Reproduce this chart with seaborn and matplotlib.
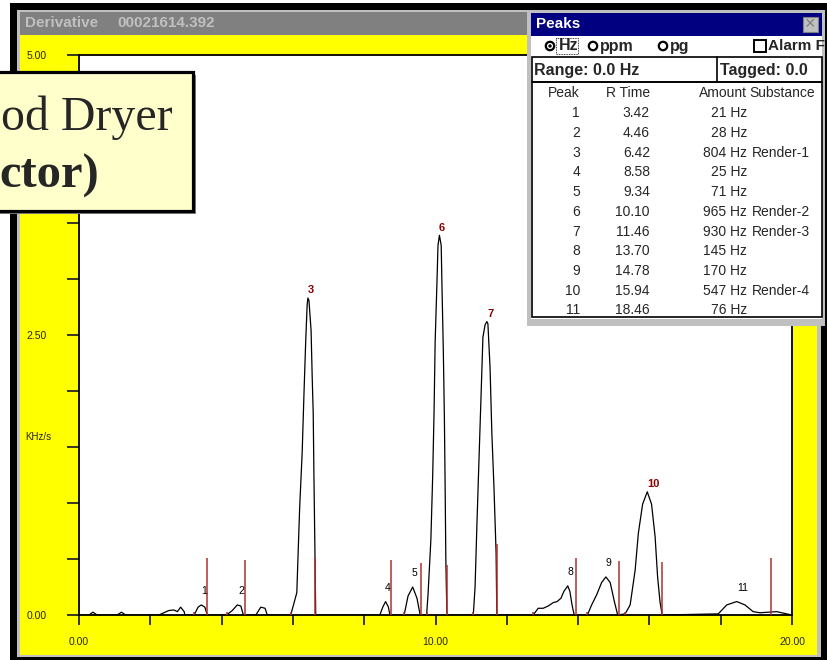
import numpy as np
import pandas as pd
import matplotlib
matplotlib.use("Agg")
import matplotlib.pyplot as plt
import matplotlib.patches as mpatches
import seaborn as sns

sns.set_style("white")
plt.rcParams["font.family"] = ["Liberation Sans", "DejaVu Sans"]


# 1. DATA

trace_time = [0.00, 0.28, 0.39, 0.51, 1.07, 1.19, 1.31,
              2.24, 2.38, 2.52, 2.66, 2.76, 2.85, 2.95, 2.97,
              3.23, 3.34, 3.43, 3.53, 3.60,
              4.14, 4.30, 4.44, 4.54, 4.61,
              4.96, 5.10, 5.22, 5.28,
              5.94, 6.11, 6.14, 6.19, 6.26, 6.31, 6.36, 6.40, 6.42, 6.45,
              6.51, 6.54, 6.57, 6.59, 6.62, 6.64,
              8.44, 8.52, 8.60, 8.68, 8.72,
              9.12, 9.23, 9.36, 9.48, 9.57,
              9.75, 9.79, 9.87, 9.92, 9.96, 9.99, 10.04, 10.07, 10.11, 10.16,
              10.18, 10.22, 10.25, 10.27, 10.29, 10.32,
              11.06, 11.11, 11.16, 11.22, 11.28, 11.33, 11.39, 11.44, 11.47,
              11.53, 11.58, 11.64, 11.70, 11.72,
              12.74, 12.88, 13.02, 13.16, 13.30, 13.41, 13.52, 13.60, 13.71,
              13.77, 13.83, 13.89,
              14.26, 14.38, 14.52, 14.66, 14.78, 14.90, 15.01, 15.11,
              15.32, 15.46, 15.60, 15.69, 15.81, 15.94, 16.06, 16.16, 16.23,
              16.30, 16.36,
              17.93, 18.17, 18.45, 18.68, 18.91, 19.10, 19.57, 19.85, 20.00]
trace_signal = [0, 0, 0.025, 0, 0, 0.025, 0,
                0, 0.02, 0.04, 0.045, 0.03, 0.07, 0.03, 0,
                0, 0.07, 0.09, 0.07, 0,
                0, 0.04, 0.09, 0.08, 0,
                0, 0.07, 0.06, 0,
                0, 0.20, 0.49, 0.96, 1.45, 1.97, 2.45, 2.77, 2.83, 2.81,
                2.54, 2.14, 1.80, 1.24, 0.52, 0,
                0, 0.07, 0.12, 0.07, 0,
                0, 0.17, 0.25, 0.15, 0,
                0, 0.18, 0.67, 1.23, 1.82, 2.44, 2.96, 3.30, 3.39, 3.30,
                2.96, 2.35, 1.74, 1.15, 0.49, 0,
                0, 0.25, 0.79, 1.39, 1.98, 2.48, 2.59, 2.62, 2.60,
                2.21, 1.63, 1.14, 0.55, 0,
                0, 0.06, 0.06, 0.08, 0.11, 0.12, 0.15, 0.21, 0.26,
                0.21, 0.09, 0,
                0, 0.09, 0.18, 0.29, 0.34, 0.29, 0.13, 0,
                0.01, 0.09, 0.40, 0.73, 0.99, 1.10, 0.99, 0.70, 0.34,
                0.11, 0,
                0.01, 0.09, 0.12, 0.09, 0.03, 0.02, 0.03, 0.01, 0]

peak_no = [1, 2, 3, 4, 5, 6, 7, 8, 9, 10, 11]
peak_rt = [3.42, 4.46, 6.42, 8.58, 9.34, 10.10, 11.46, 13.70, 14.78, 15.94, 18.46]
peak_amount = [21, 28, 804, 25, 71, 965, 930, 145, 170, 547, 76]
peak_substance = ["", "", "Render-1", "", "", "Render-2", "Render-3",
                  "", "", "Render-4", ""]
peak_apex = [0.09, 0.09, 2.83, 0.12, 0.25, 3.39, 2.62, 0.26, 0.34, 1.10, 0.12]

end_marker_time = [3.59, 4.66, 6.62, 8.75, 9.59, 10.32, 11.72, 13.94, 15.15, 16.35, 19.41]
end_marker_height = [0.51, 0.49, 0.51, 0.49, 0.46, 0.45, 0.63, 0.51, 0.48, 0.47, 0.51]
start_marker_time = [3.23, 4.14, 5.94, 9.12, 9.75, 11.06, 12.74, 14.26, 15.32]

y_ticks = [0, 0.5, 1.0, 1.5, 2.0, 2.5, 3.0, 3.5, 4.0, 4.5, 5.0]
y_tick_labels = ["0.00", "", "", "", "", "2.50", "", "", "", "", "5.00"]
x_ticks = [0, 2, 4, 6, 8, 10, 12, 14, 16, 18, 20]
x_tick_labels = ["0.00", "", "", "", "", "10.00", "", "", "", "", "20.00"]

trace = pd.DataFrame({"time": trace_time, "signal": trace_signal})

W, H = 828, 660
RED_LINE = "#b03030"
RED_TEXT = "#8b0000"


# 2. FIGURE + BACKGROUND WINDOW

fig = plt.figure(figsize=(W / 100, H / 100), dpi=100)
fig.patch.set_facecolor("white")

bg = fig.add_axes([0, 0, 1, 1], zorder=0)
bg.set_xlim(0, W)
bg.set_ylim(H, 0)
bg.axis("off")

def box(a, x0, y0, x1, y1, **kw):
    a.add_patch(mpatches.Rectangle((x0, y0), x1 - x0, y1 - y0, **kw))

box(bg, 10, 3, W, H, facecolor="black", lw=0)
box(bg, 17, 10, 821, 657, facecolor="#c0c0c0", lw=0)
box(bg, 20, 12, 818, 35, facecolor="#808080", lw=0)
box(bg, 20, 35, 817, 655, facecolor="#ffff00", lw=0)
bg.text(25, 23, "Derivative", color="#c0c0c0", fontsize=11, fontweight="bold", va="center")
bg.text(117, 23, "00021614.392", color="#c0c0c0", fontsize=11, fontweight="bold", va="center")
bg.text(25, 437, "KHz/s", fontsize=7, va="center")


# 3. CHROMATOGRAM

ax = fig.add_axes([79 / W, 1 - 615 / H, (792 - 79) / W, (615 - 55) / H], zorder=1)
ax.set_facecolor("white")

sns.lineplot(data=trace, x="time", y="signal", ax=ax, color="black", lw=0.9)

ax.vlines(end_marker_time, 0, end_marker_height, color=RED_LINE, lw=1.1, zorder=3)
ax.vlines(start_marker_time, 0, 0.03, color=RED_LINE, lw=1.1, zorder=3)

for n, rt, h, sub in zip(peak_no, peak_rt, peak_apex, peak_substance):
    if sub:
        ax.annotate(str(n), (rt, h), xytext=(0, 2), textcoords="offset points",
                    ha="left", va="bottom", fontsize=8, fontweight="bold", color=RED_TEXT)
    else:
        ax.annotate(str(n), (rt, h), xytext=(0, 6.5), textcoords="offset points",
                    ha="left", va="bottom", fontsize=7.5, color="black")

ax.set_xlim(0, 20)
ax.set_ylim(0, 5)
ax.set_xticks(x_ticks)
ax.set_xticklabels(x_tick_labels)
ax.set_yticks(y_ticks)
ax.set_yticklabels(y_tick_labels)
ax.set_xlabel("")
ax.set_ylabel("")
ax.tick_params(axis="y", direction="out", length=8.5, width=1.3, pad=15, labelsize=7.5,
               left=True)
ax.tick_params(axis="x", direction="out", length=7.5, width=1.3, pad=8, labelsize=7.5,
               bottom=True)
for s in ax.spines.values():
    s.set_color("black")
    s.set_linewidth(1.3)


# 4. OVERLAYS (callout + Peaks window)

ov = fig.add_axes([0, 0, 1, 1], zorder=2)
ov.set_xlim(0, W)
ov.set_ylim(H, 0)
ov.axis("off")
ov.patch.set_alpha(0)

# callout box
box(ov, -5, 75, 196, 214, facecolor="#808080", lw=0)
box(ov, -5, 72, 193, 211, facecolor="#ffffcc", edgecolor="black", lw=2.3)
ov.text(1, 130, "od Dryer", family="Liberation Serif", fontsize=34.5, va="baseline")
ov.text(-1, 188, "ctor)", family="Liberation Serif", fontsize=35,
        fontweight="bold", va="baseline")

# Peaks window frame
box(ov, 527, 10, W, 326, facecolor="#c0c0c0", lw=0)
box(ov, 825, 3, W, 326, facecolor="black", lw=0)
box(ov, 531, 13, 822, 36, facecolor="#000080", lw=0)
box(ov, 531, 36, 822, 319, facecolor="white", lw=0)
ov.text(536, 24.5, "Peaks", color="white", fontsize=11, fontweight="bold", va="center")
box(ov, 803, 17, 818, 32, facecolor="#c0c0c0", edgecolor="#808080", lw=0.8)
ov.text(810.5, 24.5, "\u00d7", color="#808080", fontsize=13, ha="center", va="center")

# radio buttons + checkbox
for cx in [550, 593, 663]:
    ov.add_patch(mpatches.Circle((cx, 46), 4.2, facecolor="white", edgecolor="black", lw=1.6))
ov.add_patch(mpatches.Circle((550, 46), 1.7, facecolor="black", lw=0))
box(ov, 556, 38, 578, 54, facecolor="none", edgecolor="black", lw=0.6, ls=(0, (1, 1)))
ov.text(559, 46, "Hz", fontsize=11.5, fontweight="bold", va="center")
ov.text(600, 46, "ppm", fontsize=11.5, fontweight="bold", va="center")
ov.text(670, 46, "pg", fontsize=11.5, fontweight="bold", va="center")
box(ov, 754, 40, 766, 52, facecolor="white", edgecolor="black", lw=1.4)
ov.text(768, 46, "Alarm F", fontsize=11, fontweight="bold", va="center")

# range / tagged row
box(ov, 532, 57, 822, 82, facecolor="none", edgecolor="black", lw=1.2)
ov.plot([717, 717], [57, 82], color="black", lw=1.2)
ov.text(534, 70, "Range: 0.0 Hz", fontsize=11.5, fontweight="bold", va="center")
ov.text(720, 70, "Tagged: 0.0", fontsize=11.5, fontweight="bold", va="center")

# peak list
box(ov, 532, 82, 822, 317, facecolor="none", edgecolor="black", lw=1.2)
ov.text(580, 93, "Peak", fontsize=10, ha="right", va="center")
ov.text(650, 93, "R Time", fontsize=10, ha="right", va="center")
ov.text(747, 93, "Amount", fontsize=10, ha="right", va="center")
ov.text(749, 93, "Substance", fontsize=10, ha="left", va="center")
for i, (n, rt, amt, sub) in enumerate(zip(peak_no, peak_rt, peak_amount, peak_substance)):
    y = 113.3 + i * 19.7
    ov.text(580, y, str(n), fontsize=10, ha="right", va="center")
    ov.text(650, y, f"{rt:.2f}", fontsize=10, ha="right", va="center")
    ov.text(747, y, f"{amt} Hz", fontsize=10, ha="right", va="center")
    if sub:
        ov.text(752, y, sub, fontsize=10, ha="left", va="center")


# 5. SAVE

fig.savefig("out.png", dpi=100)
